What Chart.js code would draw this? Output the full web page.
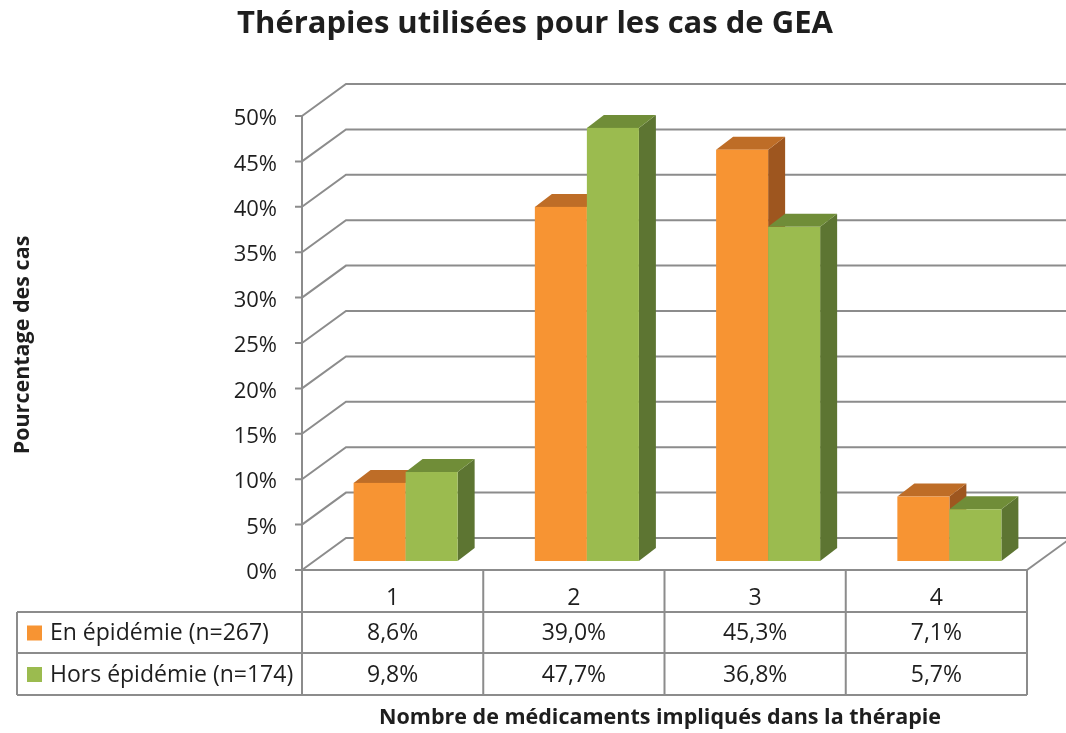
<!DOCTYPE html>
<html>
<head>
<meta charset="utf-8">
<script src="https://cdn.jsdelivr.net/npm/chart.js@4"></script>
<style>
  html, body { margin: 0; background: #fff; }
</style>
</head>
<body>
<canvas id="gea" width="1066" height="733"></canvas>
<script>
const title = 'Thérapies utilisées pour les cas de GEA';
const xTitle = 'Nombre de médicaments impliqués dans la thérapie';
const yTitle = 'Pourcentage des cas';
const categories = ['1', '2', '3', '4'];
const seriesNames = ['En épidémie (n=267)', 'Hors épidémie (n=174)'];
const enEpidemie = [8.6, 39.0, 45.3, 7.1];
const horsEpidemie = [9.8, 47.7, 36.8, 5.7];

const FONT = '"Open Sans", "Liberation Sans", sans-serif';
const WALL = { dx: 44, dy: -32 };      // back wall offset from the front plane
const BARPLANE = { dx: 13, dy: -9 };   // bars sit a little behind the front
const BARDEPTH = { dx: 17, dy: -13 };  // depth of a bar
const GRID = '#8c8c8c';
const TEXT = '#1e1e1e';
const faces = [
  { front: '#F79433', top: '#BE6D27', side: '#9E561F' },
  { front: '#9BBB4F', top: '#708D38', side: '#5D7532' }
];
const fmt = v => v.toFixed(1).replace('.', ',') + '%';

function poly(ctx, pts) {
  ctx.beginPath();
  ctx.moveTo(pts[0][0], pts[0][1]);
  for (let i = 1; i < pts.length; i++) ctx.lineTo(pts[i][0], pts[i][1]);
  ctx.closePath();
  ctx.fill();
}

const threeD = {
  id: 'threeD',
  beforeDatasetsDraw(chart) {
    const { ctx, chartArea: a, scales: { y } } = chart;
    ctx.save();
    ctx.strokeStyle = GRID;
    ctx.lineWidth = 2;

    // side wall diagonals + back wall gridlines
    y.ticks.forEach(t => {
      const py = y.getPixelForValue(t.value);
      ctx.beginPath();
      ctx.moveTo(a.left, py);
      ctx.lineTo(a.left + WALL.dx, py + WALL.dy);
      ctx.lineTo(chart.width + 20, py + WALL.dy);
      ctx.stroke();
    });
    // floor right edge
    ctx.beginPath();
    ctx.moveTo(a.right, a.bottom);
    ctx.lineTo(a.right + WALL.dx, a.bottom + WALL.dy);
    ctx.stroke();
    // y axis line and tick marks
    ctx.beginPath();
    ctx.moveTo(a.left, a.top);
    ctx.lineTo(a.left, a.bottom);
    y.ticks.forEach(t => {
      const py = y.getPixelForValue(t.value);
      ctx.moveTo(a.left - 7, py);
      ctx.lineTo(a.left, py);
    });
    ctx.stroke();

    // bars, category by category, left series first
    const metas = chart.data.datasets.map((d, i) => chart.getDatasetMeta(i));
    for (let j = 0; j < categories.length; j++) {
      metas.forEach((m, i) => {
        const bar = m.data[j];
        const w = bar.width;
        const l = bar.x - w / 2 + BARPLANE.dx, r = l + w;
        const t = bar.y + BARPLANE.dy, b = bar.base + BARPLANE.dy;
        const dx = BARDEPTH.dx, dy = BARDEPTH.dy;
        ctx.fillStyle = faces[i].side;
        poly(ctx, [[r, t], [r + dx, t + dy], [r + dx, b + dy], [r, b]]);
        ctx.fillStyle = faces[i].top;
        poly(ctx, [[l, t], [l + dx, t + dy], [r + dx, t + dy], [r, t]]);
        ctx.fillStyle = faces[i].front;
        ctx.fillRect(l, t, w, b - t);
      });
    }
    ctx.restore();
    return false;
  },
  afterDraw(chart) {
    const { ctx, chartArea: a, scales: { x, y } } = chart;
    ctx.save();
    ctx.fillStyle = TEXT;

    // title
    ctx.font = 'bold 31px ' + FONT;
    ctx.textAlign = 'center';
    ctx.textBaseline = 'middle';
    ctx.fillText(title, 535, 24);

    // y tick labels
    ctx.font = '22px ' + FONT;
    ctx.textAlign = 'right';
    y.ticks.forEach(t => {
      ctx.fillText(t.value + '%', a.left - 25, y.getPixelForValue(t.value) + 3);
    });

    // y axis title
    ctx.save();
    ctx.translate(23, 345);
    ctx.rotate(-Math.PI / 2);
    ctx.font = 'bold 21.5px ' + FONT;
    ctx.textAlign = 'center';
    ctx.fillText(yTitle, 0, 0);
    ctx.restore();

    // data table
    const rowH = [a.bottom, a.bottom + 42, a.bottom + 83, a.bottom + 125];
    const colW = (a.right - a.left) / categories.length;
    ctx.strokeStyle = GRID;
    ctx.lineWidth = 2;
    ctx.beginPath();
    ctx.moveTo(a.left, rowH[0]); ctx.lineTo(a.right, rowH[0]);
    for (let r = 1; r < rowH.length; r++) {
      ctx.moveTo(17, rowH[r]); ctx.lineTo(a.right, rowH[r]);
    }
    ctx.moveTo(17, rowH[1]); ctx.lineTo(17, rowH[3]);
    for (let c = 0; c <= categories.length; c++) {
      const cx = a.left + c * colW;
      ctx.moveTo(cx, rowH[0]); ctx.lineTo(cx, rowH[3]);
    }
    ctx.stroke();

    ctx.font = '23px ' + FONT;
    ctx.textAlign = 'center';
    categories.forEach((c, j) => {
      ctx.fillText(c, x.getPixelForValue(j), (rowH[0] + rowH[1]) / 2 + 7);
    });
    const series = [enEpidemie, horsEpidemie];
    series.forEach((vals, i) => {
      const cy = (rowH[i + 1] + rowH[i + 2]) / 2 + 1;
      ctx.fillStyle = faces[i].front;
      ctx.fillRect(27, cy - 8, 15, 15);
      ctx.fillStyle = TEXT;
      ctx.textAlign = 'left';
      ctx.fillText(seriesNames[i], 50, cy);
      ctx.textAlign = 'center';
      vals.forEach((v, j) => ctx.fillText(fmt(v), x.getPixelForValue(j), cy));
    });

    // x axis title
    ctx.font = 'bold 21.5px ' + FONT;
    ctx.textAlign = 'center';
    ctx.fillText(xTitle, 660, 718);
    ctx.restore();
  }
};

new Chart(document.getElementById('gea'), {
  type: 'bar',
  data: {
    labels: categories,
    datasets: [
      { label: seriesNames[0], data: enEpidemie, backgroundColor: faces[0].front },
      { label: seriesNames[1], data: horsEpidemie, backgroundColor: faces[1].front }
    ]
  },
  options: {
    responsive: false,
    animation: false,
    layout: { padding: { left: 302, right: 39, top: 116, bottom: 163 } },
    datasets: { bar: { categoryPercentage: 0.574, barPercentage: 1 } },
    scales: {
      x: { display: false },
      y: { display: false, min: 0, max: 50, ticks: { stepSize: 5 } }
    },
    plugins: { legend: { display: false }, tooltip: { enabled: false } }
  },
  plugins: [threeD]
});
</script>
</body>
</html>
